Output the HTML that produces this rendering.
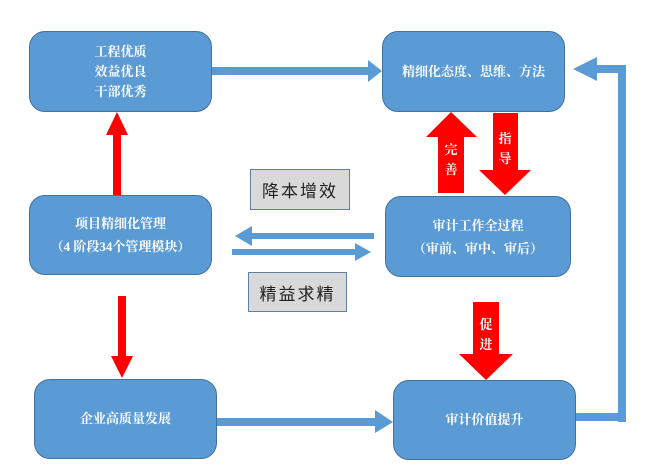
<!DOCTYPE html>
<html><head><meta charset="utf-8"><style>
html,body{margin:0;padding:0;background:#fff;}
body{width:660px;height:468px;position:relative;overflow:hidden;font-family:"Liberation Serif","Noto Serif CJK SC",serif;}
.b{position:absolute;background:#5b9bd5;border:1.5px solid #41719c;border-radius:16px;box-sizing:border-box;color:#fff;font-weight:bold;font-size:13px;display:flex;flex-direction:column;align-items:center;justify-content:center;line-height:20px;text-align:center;}
.g{position:absolute;background:#d9d9d9;border:1.5px solid #5f7f9f;box-sizing:border-box;font-size:17px;display:flex;align-items:center;justify-content:center;letter-spacing:2px;font-family:"Liberation Sans","Noto Sans CJK SC",sans-serif;color:#222;}
svg{position:absolute;left:0;top:0;}
.t{position:absolute;color:#fff;font-size:13px;font-weight:bold;width:20px;text-align:center;line-height:20px;font-family:"Liberation Serif","Noto Serif CJK SC",serif;}
</style></head><body>
<svg width="660" height="468">
<g fill="#5b9bd5">
<rect x="211" y="67" width="159" height="8"/><polygon points="368,60 382,71 368,82"/>
<rect x="618" y="65" width="8" height="357"/><rect x="576" y="413" width="50" height="8"/><rect x="594" y="65" width="32" height="8"/><polygon points="597,57 573,69 597,81"/>
<rect x="250" y="233" width="124" height="6"/><polygon points="252,226 235,236 252,246"/>
<rect x="232" y="249" width="124" height="6"/><polygon points="355,243 371,252 355,261"/>
<rect x="217" y="418" width="160" height="8"/><polygon points="375,410 393,422 375,433"/>
</g>
<g fill="#ff0000">
<rect x="113" y="133" width="8" height="62"/><polygon points="106,135 117,112 128,135"/>
<rect x="438" y="135" width="26" height="58"/><polygon points="426,137 451,112 477,137"/>
<rect x="493" y="113" width="25" height="58"/><polygon points="479,170 531,170 505,195"/>
<rect x="118" y="296" width="8" height="61"/><polygon points="111,356 133,356 122,378"/>
<rect x="473" y="302" width="26" height="53"/><polygon points="459,354 513,354 486,380"/>
</g>
</svg>
<div class="b" style="left:29px;top:31px;width:183px;height:81px;"><div>工程优质</div><div>效益优良</div><div>干部优秀</div></div>
<div class="b" style="left:382px;top:31px;width:183px;height:81px;">精细化态度、思维、方法</div>
<div class="b" style="left:29px;top:195px;width:183px;height:80px;line-height:23px;"><div>项目精细化管理</div><div>（4 阶段34个管理模块）</div></div>
<div class="b" style="left:385px;top:196px;width:186px;height:81px;line-height:23px;"><div>审计工作全过程</div><div>（审前、审中、审后）</div></div>
<div class="b" style="left:34px;top:379px;width:183px;height:80px;">企业高质量发展</div>
<div class="b" style="left:393px;top:380px;width:183px;height:80px;">审计价值提升</div>
<div class="g" style="left:250px;top:169px;width:100px;height:41px;">降本增效</div>
<div class="g" style="left:248px;top:272px;width:99px;height:40px;">精益求精</div>
<div class="t" style="left:441px;top:140px;">完<br>善</div>
<div class="t" style="left:495px;top:129px;">指<br>导</div>
<div class="t" style="left:476px;top:315px;">促<br>进</div>
</body></html>
